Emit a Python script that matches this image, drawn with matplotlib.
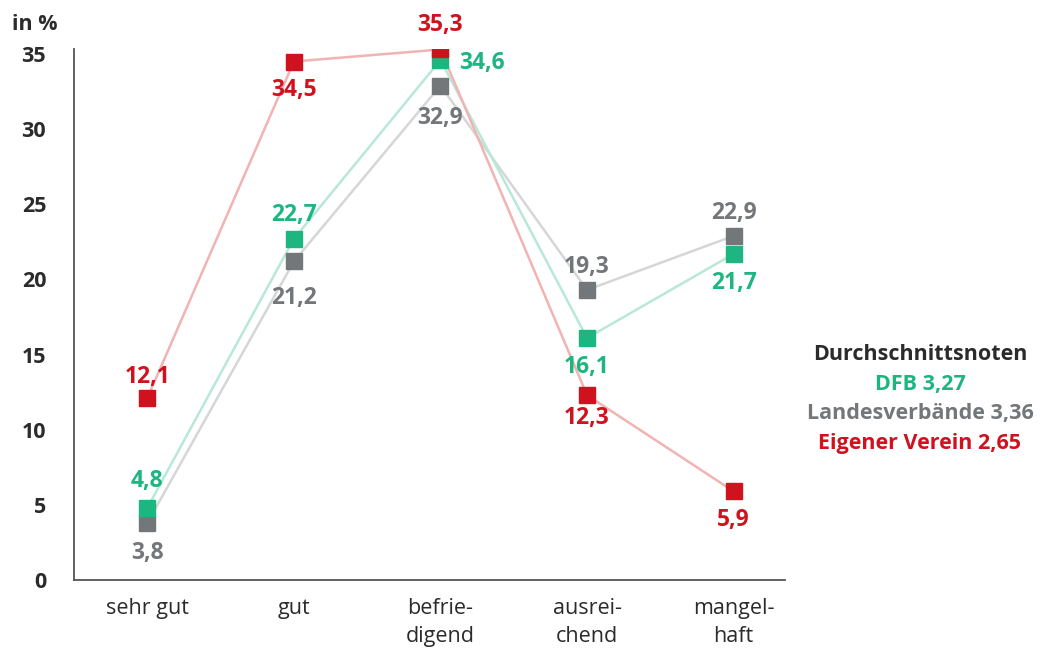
import matplotlib
matplotlib.use("Agg")
import matplotlib.pyplot as plt

plt.rcParams['font.family'] = ['Open Sans', 'DejaVu Sans']

categories = ["sehr gut", "gut", "befrie-\ndigend", "ausrei-\nchend", "mangel-\nhaft"]
dfb = [4.8, 22.7, 34.6, 16.1, 21.7]
landes = [3.8, 21.2, 32.9, 19.3, 22.9]
verein = [12.1, 34.5, 35.3, 12.3, 5.9]
yticks = [0, 5, 10, 15, 20, 25, 30, 35]

RED, GREEN, GRAY = "#D0121F", "#1DB680", "#74777A"
RED_L, GREEN_L, GRAY_L = "#F2B3B3", "#B8E8D8", "#D6D6D6"
DARK = "#2B2B2B"

fig = plt.figure(figsize=(10.47, 6.51), dpi=100)
ax = fig.add_axes([0.0707, 0.109, 0.679, 0.815])
x = list(range(len(categories)))

ax.plot(x, landes, color=GRAY_L, lw=1.8, zorder=1)
ax.plot(x, dfb, color=GREEN_L, lw=1.8, zorder=2)
ax.plot(x, verein, color=RED_L, lw=1.8, zorder=3)
ax.plot(x, landes, ls='none', marker='s', ms=11.5, color=GRAY, zorder=4)
ax.plot(x, dfb, ls='none', marker='s', ms=11.5, color=GREEN, zorder=5)
ax.plot(x, verein, ls='none', marker='s', ms=11.5, color=RED, zorder=6)

def fmt(v):
    return f"{v:.1f}".replace(".", ",")

# label placements: (dx, dy) in points
pos = {
    'verein': [(0, 17.5), (0, -18), (0, 19.5), (0, -14), (0, -18.5)],
    'dfb': [(0, 21.5), (0, 19), (30, 0), (0, -18.5), (0, -19)],
    'landes': [(0, -19.5), (0, -24.5), (0, -21.5), (0, 19), (0, 18.5)],
}
for key, vals, col in [('landes', landes, GRAY), ('dfb', dfb, GREEN), ('verein', verein, RED)]:
    for i, v in enumerate(vals):
        dx, dy = pos[key][i]
        ax.annotate(fmt(v), (i, v), xytext=(dx, dy), textcoords='offset points',
                    ha='center', va='center_baseline', fontsize=16.5, fontweight='bold', color=col, zorder=7)

ax.set_xlim(-0.5, 4.35)
ax.set_ylim(0, 35.3)
ax.set_yticks(yticks)
ax.set_yticklabels([str(t) for t in yticks], fontsize=15.5, fontweight='bold', color=DARK)
ax.set_xticks(x)
ax.set_xticklabels(categories, fontsize=15.5, color=DARK, linespacing=1.45)
ax.tick_params(axis='both', length=0)
ax.tick_params(axis='y', pad=20)
ax.tick_params(axis='x', pad=13)
for s in ['top', 'right']:
    ax.spines[s].set_visible(False)
for s in ['left', 'bottom']:
    ax.spines[s].set_color("#555555")
    ax.spines[s].set_linewidth(1.3)

fig.text(12/1047, 1-24/651, "in %", fontsize=15.5, fontweight='bold', color=DARK, ha='left', va='center')

legend_lines = [("Durchschnittsnoten", DARK), ("DFB 3,27", GREEN),
                ("Landesverbände 3,36", GRAY), ("Eigener Verein 2,65", RED)]
for j, (t, c) in enumerate(legend_lines):
    fig.text(920/1047, 1-(355+29.5*j)/651, t, fontsize=15.5, fontweight='bold', color=c,
             ha='center', va='center')

fig.savefig("out.png", dpi=100)
